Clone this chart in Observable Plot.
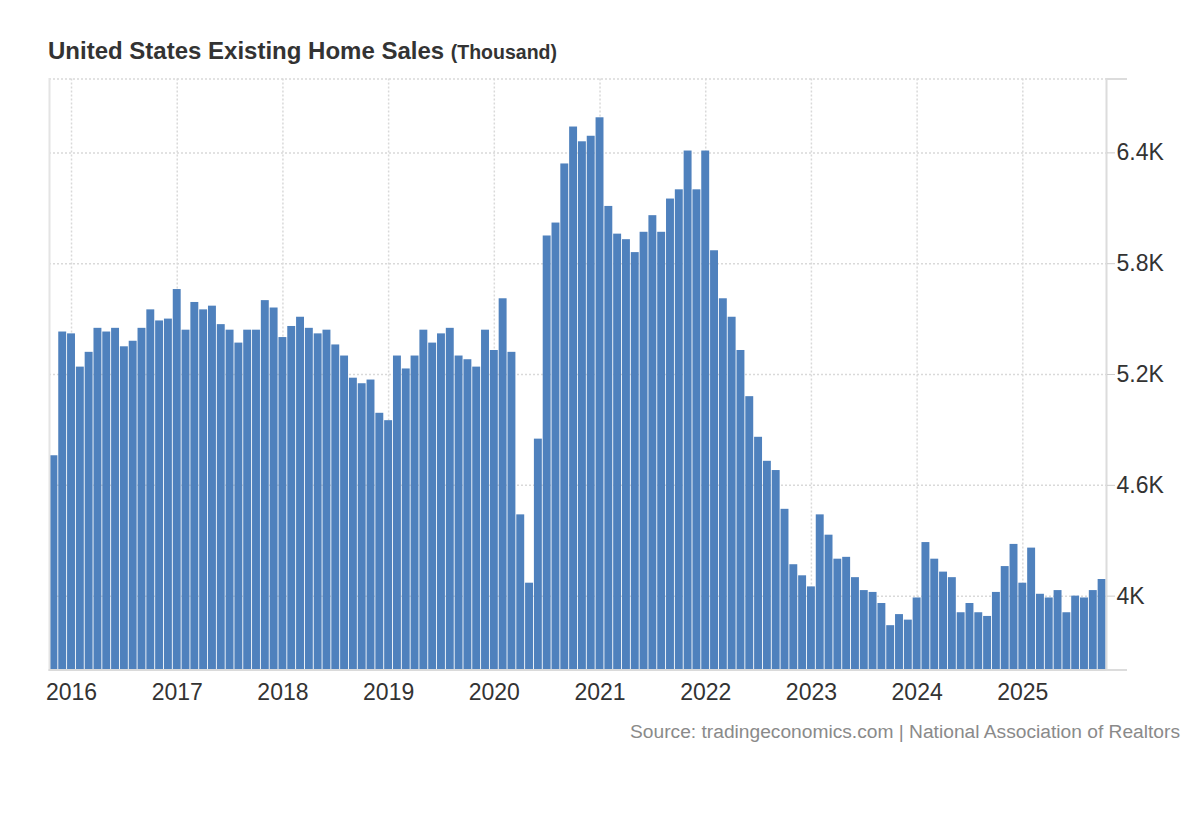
<!DOCTYPE html>
<html><head><meta charset="utf-8">
<script src="https://cdn.jsdelivr.net/npm/d3@7"></script>
<script src="https://cdn.jsdelivr.net/npm/@observablehq/plot@0.6"></script>
<style>
body{margin:0;background:#fff;font-family:"Liberation Sans",Arial,sans-serif;}
#wrap{position:relative;width:1200px;height:820px;overflow:hidden;}
#title{position:absolute;left:48px;top:37px;font-size:24px;font-weight:bold;color:#333;white-space:nowrap;}
#title span{font-size:19.5px;}
#chart{position:absolute;left:0;top:70px;}
#source{position:absolute;right:20px;top:721px;font-size:19.2px;color:#8a8a8a;white-space:nowrap;}
</style></head><body>
<div id="wrap">
<div id="title">United States Existing Home Sales <span>(Thousand)</span></div>
<div id="chart"></div>
<div id="source">Source: tradingeconomics.com | National Association of Realtors</div>
</div>
<script>
// Monthly existing home sales (thousand, SAAR), Nov 2015 - Oct 2025
const v2015 = [4760, 5430];
const v2016 = [5420, 5240, 5320, 5450, 5430, 5450, 5350, 5380, 5450, 5550, 5490, 5500];
const v2017 = [5660, 5440, 5590, 5550, 5570, 5470, 5440, 5370, 5440, 5440, 5600, 5560];
const v2018 = [5400, 5460, 5510, 5450, 5420, 5440, 5360, 5300, 5180, 5150, 5170, 4990];
const v2019 = [4950, 5300, 5230, 5300, 5440, 5370, 5420, 5450, 5300, 5280, 5240, 5440];
const v2020 = [5330, 5610, 5320, 4440, 4070, 4850, 5950, 6020, 6340, 6540, 6460, 6490];
const v2021 = [6590, 6110, 5960, 5930, 5860, 5970, 6060, 5970, 6150, 6200, 6410, 6200];
const v2022 = [6410, 5870, 5610, 5510, 5330, 5080, 4860, 4730, 4680, 4470, 4170, 4110];
const v2023 = [4050, 4440, 4330, 4200, 4210, 4100, 4030, 4020, 3960, 3840, 3900, 3870];
const v2024 = [3990, 4290, 4200, 4130, 4100, 3910, 3960, 3910, 3890, 4020, 4160, 4280];
const v2025 = [4070, 4260, 4010, 3990, 4030, 3910, 4000, 3990, 4030, 4090];

const values = [...v2015, ...v2016, ...v2017, ...v2018, ...v2019, ...v2020, ...v2021, ...v2022, ...v2023, ...v2024, ...v2025];
const fmt = d3.utcFormat("%Y-%m");
const months = d3.utcMonth.range(new Date(Date.UTC(2015, 10, 1)), new Date(Date.UTC(2025, 10, 1))).map(fmt);
const data = months.map((m, i) => ({month: m, value: values[i]}));

const yearTicks = months.filter(m => m.endsWith("-01"));
const yDomain = [3600, 6800];
const yTicks = [4000, 4600, 5200, 5800, 6400];
const yGrid = [4000, 4600, 5200, 5800, 6400, 6800];
const yEdges = [3600, 6800];

const grid = {stroke: "#d9d9d9", strokeOpacity: 1, strokeDasharray: "2,2", strokeWidth: 1.5};

const chart = Plot.plot({
  width: 1200,
  height: 660,
  marginLeft: 49,
  marginRight: 94,
  marginTop: 8.5,
  marginBottom: 60.5,
  style: {fontFamily: '"Liberation Sans", Arial, sans-serif', color: "#333", background: "transparent", overflow: "visible"},
  x: {type: "band", domain: months, paddingInner: 0.1, paddingOuter: 0.05, label: null},
  y: {domain: yDomain, label: null},
  marks: [
    Plot.gridY(yGrid, grid),
    Plot.gridX(yearTicks, grid),
    Plot.barY(data, {x: "month", y: "value", fill: "#4f81bd", clip: true}),
    Plot.frame({anchor: "left", stroke: "#e4e4e4", strokeWidth: 2}),
    Plot.frame({anchor: "bottom", stroke: "#dadada", strokeWidth: 2}),
    Plot.frame({anchor: "right", stroke: "#dcdcdc", strokeWidth: 2}),
    Plot.axisY(yEdges, {anchor: "right", label: null, tickSize: 20, stroke: "#dcdcdc", strokeWidth: 2, tickFormat: () => ""}),
    Plot.axisY(yTicks, {anchor: "right", label: null, tickSize: 8, tickPadding: 2, stroke: "#cccccc", fontSize: 23, fill: "#333", tickFormat: d => (d / 1000) + "K"}),
    Plot.axisX(yearTicks, {anchor: "bottom", label: null, tickSize: 0, tickPadding: 14, fontSize: 23, fill: "#333", tickFormat: d => d.slice(0, 4)})
  ]
});
document.getElementById("chart").appendChild(chart);
</script>
</body></html>
